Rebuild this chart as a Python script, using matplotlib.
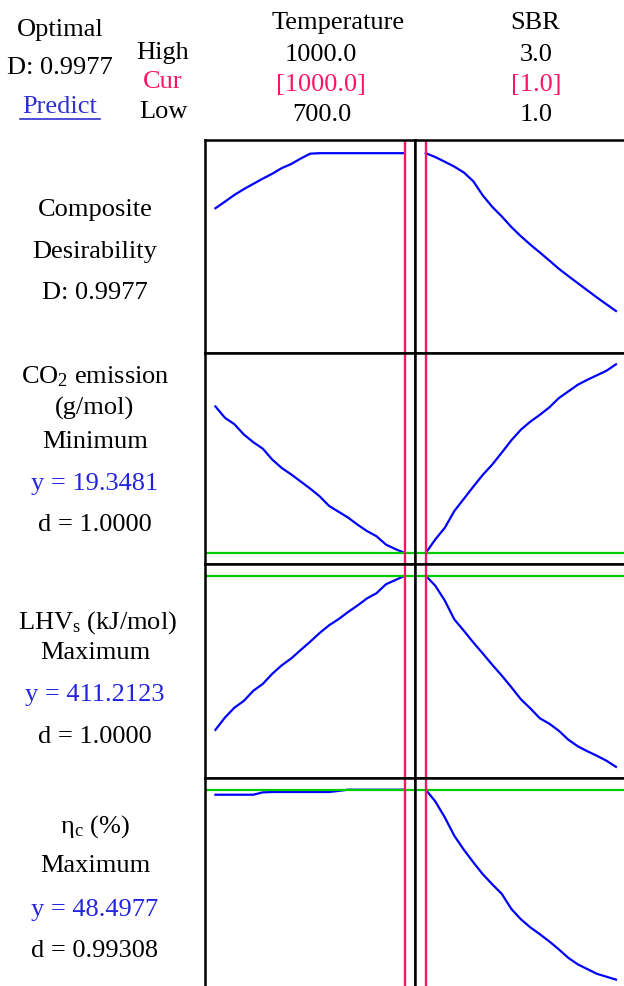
import matplotlib
matplotlib.use('Agg')
import matplotlib.pyplot as plt
from matplotlib.lines import Line2D

plt.rcParams['font.family'] = ['Liberation Serif', 'DejaVu Serif']
plt.rcParams['mathtext.fontset'] = 'custom'
plt.rcParams['mathtext.rm'] = 'Liberation Serif'
plt.rcParams['mathtext.it'] = 'Liberation Serif:italic'

# factor settings
temp_lo, temp_hi, temp_cur = 700.0, 1000.0, 1000.0
sbr_lo, sbr_hi, sbr_cur = 1.0, 3.0, 1.0

temp = [700, 715, 730, 745, 760, 775, 790, 805, 820, 835, 850,
        865, 880, 895, 910, 925, 940, 955, 970, 985, 1000]
sbr = [1.0, 1.1, 1.2, 1.3, 1.4, 1.5, 1.6, 1.7, 1.8, 1.9, 2.0,
       2.1, 2.2, 2.3, 2.4, 2.5, 2.6, 2.7, 2.8, 2.9, 3.0]

# composite desirability
comp_temp = [0.704, 0.739, 0.775, 0.806, 0.834, 0.862, 0.888, 0.918, 0.940, 0.969, 0.995,
             0.9977, 0.9977, 0.9977, 0.9977, 0.9977, 0.9977, 0.9977, 0.9977, 0.9977, 0.9977]
comp_sbr = [0.9977, 0.977, 0.952, 0.926, 0.895, 0.848, 0.772, 0.711, 0.660, 0.604, 0.555,
            0.510, 0.468, 0.425, 0.381, 0.342, 0.304, 0.266, 0.228, 0.192, 0.156]

# CO2 emission (g/mol)
co2_temp = [30.73, 29.85, 29.35, 28.55, 27.95, 27.45, 26.60, 25.95, 25.45, 24.90, 24.35,
            23.75, 23.00, 22.55, 22.10, 21.55, 21.05, 20.65, 20.00, 19.65, 19.3481]
co2_sbr = [19.3481, 20.40, 21.30, 22.60, 23.55, 24.50, 25.42, 26.22, 27.15, 28.10, 28.92,
           29.55, 30.08, 30.66, 31.38, 31.90, 32.42, 32.80, 33.15, 33.50, 34.00]

# LHVs (kJ/mol)
lhv_temp = [345.8, 351.0, 355.2, 358.1, 362.4, 365.3, 369.6, 373.2, 376.1, 379.7, 383.2,
            386.9, 390.2, 392.8, 395.8, 398.6, 401.6, 403.8, 407.6, 409.4, 411.2123]
lhv_sbr = [411.2123, 407.0, 400.7, 392.7, 387.9, 382.9, 378.2, 373.4, 368.8, 363.9, 358.8,
           354.9, 350.7, 348.4, 345.4, 341.6, 338.8, 336.7, 334.8, 332.7, 330.1]

# cold gas efficiency (%)
eta_temp = [48.22, 48.22, 48.22, 48.22, 48.22, 48.35, 48.37, 48.37, 48.37, 48.37, 48.37,
            48.37, 48.37, 48.43, 48.4977, 48.4977, 48.4977, 48.4977, 48.4977, 48.4977, 48.4977]
eta_sbr = [48.4977, 47.85, 46.97, 45.95, 45.18, 44.48, 43.82, 43.26, 42.73, 41.90, 41.33,
           40.88, 40.50, 40.10, 39.66, 39.19, 38.83, 38.57, 38.31, 38.15, 37.99]

d_co2, d_lhv, d_eta = 1.0, 1.0, 0.99308

BLUE = '#0000ff'
TXT_BLUE = '#2424e0'
RED = '#ff1464'
GREEN = '#00cc00'

W, H = 624, 986
fig = plt.figure(figsize=(W / 100, H / 100), dpi=100)


def fx(px):
    return px / W


def fy(py):
    return 1 - py / H


col_edges = [(205, 415.3), (415.3, 626.4)]
row_edges = [(140, 353), (353, 564.3), (564.3, 778.3), (778.3, 991)]

rows = [
    (comp_temp, comp_sbr, None),
    (co2_temp, co2_sbr, co2_temp[-1]),
    (lhv_temp, lhv_sbr, lhv_temp[-1]),
    (eta_temp, eta_sbr, eta_temp[-1]),
]

pad_x = 0.055
for r, (yt, ys, target) in enumerate(rows):
    y0, y1 = row_edges[r]
    if target is None:
        ylim = (-0.068, 1.068)
    else:
        lo = min(min(yt), min(ys))
        hi = max(max(yt), max(ys))
        pad = 0.06 * (hi - lo)
        ylim = (lo - pad, hi + pad)
    for c, (xs, ys_, cur, lo_x, hi_x) in enumerate([
            (temp, yt, temp_cur, temp_lo, temp_hi),
            (sbr, ys, sbr_cur, sbr_lo, sbr_hi)]):
        x0, x1 = col_edges[c]
        ax = fig.add_axes([fx(x0), fy(y1), (x1 - x0) / W, (y1 - y0) / H])
        ax.plot(xs, ys_, color=BLUE, lw=1.6, zorder=3)
        ax.axvline(cur, color=RED, lw=1.7, zorder=4)
        if target is not None:
            ax.axhline(target, color=GREEN, lw=1.6, zorder=3.5)
        span = hi_x - lo_x
        ax.set_xlim(lo_x - pad_x * span, hi_x + pad_x * span)
        ax.set_ylim(*ylim)
        ax.set_xticks([])
        ax.set_yticks([])
        for s in ax.spines.values():
            s.set_linewidth(1.8)
            s.set_color('black')
            s.set_zorder(5)

fs = 19


def label(x, y, s, color='black', **kw):
    fig.text(fx(x), fy(y), s, ha='center', va='center', fontsize=fs, color=color, **kw)


# header block
label(60, 30, 'Optimal')
label(60, 68, f'D: {comp_temp[-1]:.4f}')
label(60, 107, 'Predict', color='#3030d0')
fig.add_artist(Line2D([fx(20), fx(100)], [fy(119), fy(119)], color='#3030d0', lw=1.2))
label(163, 53, 'High')
label(163, 82, 'Cur', color=RED)
label(163, 112, 'Low')

label(338, 23, 'Temperature')
label(321, 55, f'{temp_hi:.1f}')
label(321, 85, f'[{temp_cur:.1f}]', color=RED)
label(322, 115, f'{temp_lo:.1f}')

label(535, 23, 'SBR')
label(536, 55, f'{sbr_hi:.1f}')
label(536, 85, f'[{sbr_cur:.1f}]', color=RED)
label(536, 115, f'{sbr_lo:.1f}')

# response labels
label(95, 210, 'Composite')
label(95, 252, 'Desirability')
label(95, 293, f'D: {comp_temp[-1]:.4f}')

label(95, 377, r'CO$_\mathrm{2}$ emission')
label(95, 408, '(g/mol)')
label(95, 442, 'Minimum')
label(95, 484, f'y = {co2_temp[-1]:.4f}', color=TXT_BLUE)
label(95, 525, f'd = {d_co2:.4f}')

label(98, 623, r'LHV$_\mathrm{s}$ (kJ/mol)')
label(95, 653, 'Maximum')
label(95, 695, f'y = {lhv_temp[-1]:.4f}', color=TXT_BLUE)
label(95, 737, f'd = {d_lhv:.4f}')

label(95, 827, r'η$_\mathrm{c}$ (%)')
label(95, 866, 'Maximum')
label(95, 910, f'y = {eta_temp[-1]:.4f}', color=TXT_BLUE)
label(95, 951, f'd = {d_eta:.5f}')

fig.savefig('out.png', dpi=100)
